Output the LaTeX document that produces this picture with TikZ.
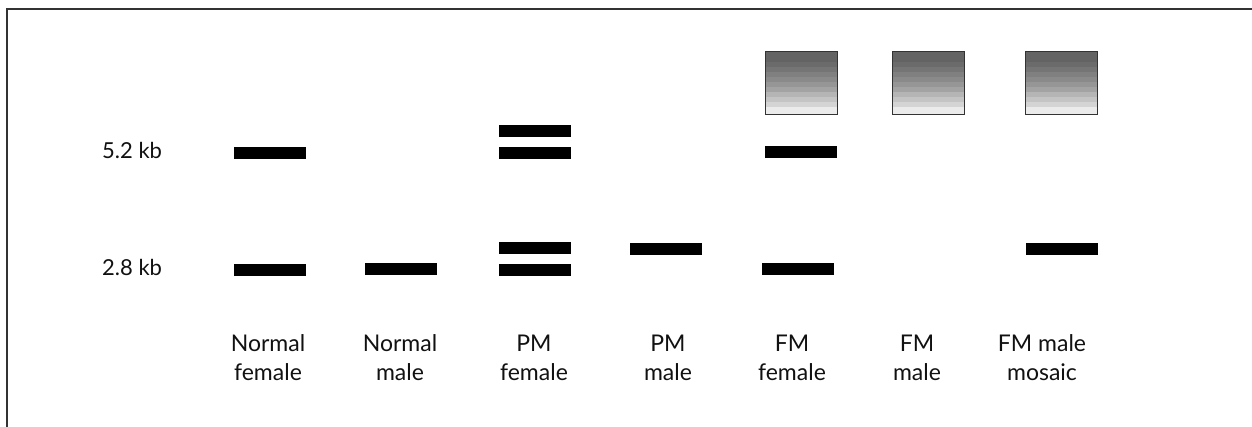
\documentclass[tikz,border=0pt]{standalone}
\usepackage{fontspec}
\setmainfont{Lato}
\usetikzlibrary{calc}

\definecolor{ink}{HTML}{111111}
\definecolor{rim}{HTML}{333333}

\tikzset{
  band/.style={fill=black, inner sep=0pt, outer sep=0pt,
               minimum width=72pt, minimum height=12pt},
  smear/.style={draw=rim, line width=1pt, inner sep=0pt, outer sep=0pt,
                minimum width=72pt, minimum height=63pt,
                path picture={
                  \foreach \t/\b/\d in {0/10/61,10/15/58,15/20/54,20/25/50,25/30/46,
                                        30/35/41,35/40/36,40/45/29,45/50/23,50/55/17,55/64/8}
                    \fill[black!\d] ($(path picture bounding box.north west)+(0,\t)$)
                      rectangle ($(path picture bounding box.north east)+(0,\b+0.6)$);
                }},
  lane/.style={anchor=base, align=center, text=ink, inner sep=0pt,
               font=\fontsize{23}{29}\selectfont},
  size/.style={anchor=base west, text=ink, inner sep=0pt,
               font=\fontsize{22}{29}\selectfont}
}

\begin{document}
\begin{tikzpicture}[x=1pt, y=-1pt]
  \useasboundingbox (0,0) rectangle (1252,427);
  \clip (0,0) rectangle (1252,427);

  % outer frame (runs off the right and bottom edges)
  \draw[rim, line width=1.5pt] (7,9) rectangle (1300,480);

  % size markers
  \node[size] (kb52) at (102,159) {5.2 kb};
  \node[size] (kb28) at (102,276) {2.8 kb};

  % Normal female
  \node[band] (nfA) at (270,153) {};
  \node[band] (nfB) at (270,270) {};
  % Normal male
  \node[band] (nmB) at (400.5,269.5) {};
  % PM female
  \node[band] (pfA1) at (534.5,131) {};
  \node[band] (pfA2) at (534.5,153) {};
  \node[band] (pfB1) at (534.5,248) {};
  \node[band] (pfB2) at (534.5,270) {};
  % PM male
  \node[band] (pmB) at (666,249) {};
  % FM female
  \node[smear] (ffS) at (801,83.5) {};
  \node[band] (ffA) at (801,152.5) {};
  \node[band] (ffB) at (798,269.5) {};
  % FM male
  \node[smear] (fmS) at (928.5,83.5) {};
  % FM male mosaic
  \node[smear] (fxS) at (1061,83.5) {};
  \node[band] (fxB) at (1062,249) {};

  % lane labels (anchored on the baseline of the lower line)
  \node[lane] (l1) at (268,380) {Normal\\female};
  \node[lane] (l2) at (400,380) {Normal\\male};
  \node[lane] (l3) at (534,380) {PM\\female};
  \node[lane] (l4) at (668,380) {PM\\male};
  \node[lane] (l5) at (792,380) {FM\\female};
  \node[lane] (l6) at (917,380) {FM\\male};
  \node[lane] (l7) at (1042,380) {FM male\\mosaic};
\end{tikzpicture}
\end{document}
